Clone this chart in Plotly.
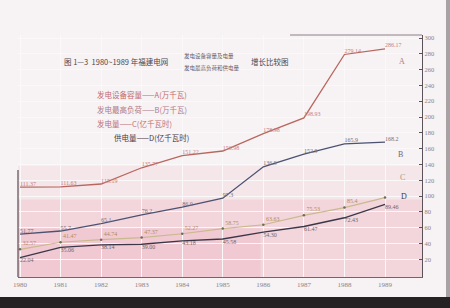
import plotly.graph_objects as go

years = list(range(1980, 1990))
year_labels = [str(y) for y in years]

cap_A = [111.37, 111.63, 115.19, 135.77, 151.22, 156.98, 178.98, 198.93, 279.14, 286.17]
load_B = [51.77, 55.7, 65.1, 76.2, 86.0, 97.3, 136.9, 152.9, 165.9, 168.2]
load_B_text = ["51.77", "55.7", "65.1", "76.2", "86.0", "97.3", "136.9", "152.9", "165.9", "168.2"]
gen_C = [32.57, 41.47, 44.74, 47.37, 52.27, 58.75, 63.63, 75.53, 85.4, 98.0]
gen_C_text = ["32.57", "41.47", "44.74", "47.37", "52.27", "58.75", "63.63", "75.53", "85.4", ""]
sup_D = [22.04, 35.06, 38.14, 39.00, 43.18, 45.58, 54.30, 61.47, 72.43, 89.46]

y_ticks = list(range(20, 301, 20))

SERIF = "Liberation Serif, DejaVu Serif, serif"
CJK = "Noto Sans CJK SC, sans-serif"

# plot area in pixels: x 18..422, y 35..277
L, R, T, B = 18, 422, 35, 277
W, H = R - L, B - T

def px(x):
    return (x - L) / W

def py(y):
    return (B - y) / H

fig = go.Figure()

fig.add_trace(go.Scatter(
    x=years, y=cap_A, mode="lines+text",
    text=[f"{v:.2f}" for v in cap_A], textposition="top right",
    textfont=dict(size=6, color="#c47f86", family=SERIF),
    line=dict(color="#b8675f", width=1.3), hoverinfo="skip"))
fig.add_trace(go.Scatter(
    x=years, y=load_B, mode="lines+text",
    text=load_B_text, textposition="top right",
    textfont=dict(size=6, color="#7b6e76", family=SERIF),
    line=dict(color="#4b5272", width=1.3), hoverinfo="skip"))
fig.add_trace(go.Scatter(
    x=years, y=gen_C, mode="lines+markers+text",
    text=gen_C_text, textposition="top right",
    textfont=dict(size=6, color="#b28a62", family=SERIF),
    marker=dict(size=2.5, color="#6f6a5a"),
    line=dict(color="#c9b98e", width=1.2), hoverinfo="skip"))
fig.add_trace(go.Scatter(
    x=years, y=sup_D, mode="lines+text",
    text=[f"{v:.2f}" for v in sup_D], textposition="bottom right",
    textfont=dict(size=6, color="#6e666c", family=SERIF),
    line=dict(color="#3a3848", width=1.4), hoverinfo="skip"))

shapes = [
    dict(type="rect", xref="paper", yref="paper", x0=0, x1=1, y0=0, y1=0.46,
         fillcolor="rgba(232,160,178,0.15)", line_width=0, layer="below"),
    dict(type="rect", xref="paper", yref="paper", x0=0, x1=1, y0=0, y1=0.32,
         fillcolor="rgba(232,150,172,0.20)", line_width=0, layer="below"),
    dict(type="rect", xref="paper", yref="paper", x0=0, x1=0.6, y0=0, y1=0.2,
         fillcolor="rgba(232,145,168,0.18)", line_width=0, layer="below"),
    # left border line (lower part)
    dict(type="line", xref="paper", yref="paper", x0=0, x1=0, y0=0, y1=py(170),
         line=dict(color="#5a4a52", width=1.2)),
    # top border (right part)
    dict(type="line", xref="paper", yref="paper", x0=px(290), x1=1, y0=1, y1=1,
         line=dict(color="#8a8088", width=1)),
    # dark photo edge at bottom
    dict(type="rect", xref="paper", yref="paper", x0=px(-5), x1=px(455), y0=py(297), y1=py(312),
         fillcolor="#262224", line_width=0),
    dict(type="rect", xref="paper", yref="paper", x0=px(446), x1=px(455), y0=py(297), y1=py(-5),
         fillcolor="#a8a2a4", line_width=0),
]

ann = []
# title
ann.append(dict(x=px(62), y=py(62), xref="paper", yref="paper", xanchor="left", yanchor="middle",
                text="图 1—3  1980~1989 年福建电网", showarrow=False,
                font=dict(size=7.5, color="#4e464e", family=CJK)))
ann.append(dict(x=px(182), y=py(56), xref="paper", yref="paper", xanchor="left", yanchor="middle",
                text="发电设备容量及电量", showarrow=False,
                font=dict(size=5.5, color="#6a6068", family=CJK)))
ann.append(dict(x=px(182), y=py(68), xref="paper", yref="paper", xanchor="left", yanchor="middle",
                text="发电最高负荷和供电量", showarrow=False,
                font=dict(size=5.5, color="#6a6068", family=CJK)))
ann.append(dict(x=px(249), y=py(62), xref="paper", yref="paper", xanchor="left", yanchor="middle",
                text="增长比较图", showarrow=False,
                font=dict(size=7.5, color="#4e464e", family=CJK)))
# legend texts
legend_items = [
    ("发电设备容量——A(万千瓦)", 95, 95, "#c46a6e"),
    ("发电最高负荷——B(万千瓦)", 95, 109, "#b07a88"),
    ("发电量——C(亿千瓦时)", 95, 123, "#c07078"),
    ("供电量——D(亿千瓦时)", 112, 137, "#4a3a48"),
]
for txt, x0, y0, col in legend_items:
    ann.append(dict(x=px(x0), y=py(y0), xref="paper", yref="paper", xanchor="left", yanchor="middle",
                    text=txt, showarrow=False, font=dict(size=7.5, color=col, family=CJK)))
# end letters
for letter, x0, y0, col in [("A", 402, 62, "#b08080"), ("B", 400, 154, "#706878"),
                            ("C", 402, 178, "#a89880"), ("D", 404, 196, "#3a3848")]:
    ann.append(dict(x=px(x0), y=py(y0), xref="paper", yref="paper", xanchor="center", yanchor="middle",
                    text=letter, showarrow=False, font=dict(size=8, color=col, family=SERIF)))

fig.update_layout(
    width=450, height=308,
    margin=dict(l=L, r=450 - R, t=T, b=308 - B),
    paper_bgcolor="#f7f2f3", plot_bgcolor="rgba(0,0,0,0)",
    showlegend=False, shapes=shapes, annotations=ann,
    xaxis=dict(range=[1980 - 2 / 40.56, 1989 + 37 / 40.56], tickmode="array",
               tickvals=years, ticktext=year_labels,
               tickfont=dict(size=7, color="#8a8488", family=SERIF),
               showgrid=True, gridcolor="#fbf8f9", gridwidth=1,
               zeroline=False, showline=True, linecolor="#7a6068", linewidth=1.2,
               ticks="", fixedrange=True),
    yaxis=dict(side="right", range=[-2.5, 303.8], tickmode="array", tickvals=y_ticks,
               ticktext=[str(v) for v in y_ticks],
               tickfont=dict(size=6.5, color="#8a8488", family=SERIF),
               showgrid=True, gridcolor="#fbf8f9", gridwidth=1,
               zeroline=False, showline=True, linecolor="#5a5258", linewidth=1.2,
               ticks="inside", ticklen=3, tickcolor="#5a5258", fixedrange=True),
)

fig.write_html("out.html")
